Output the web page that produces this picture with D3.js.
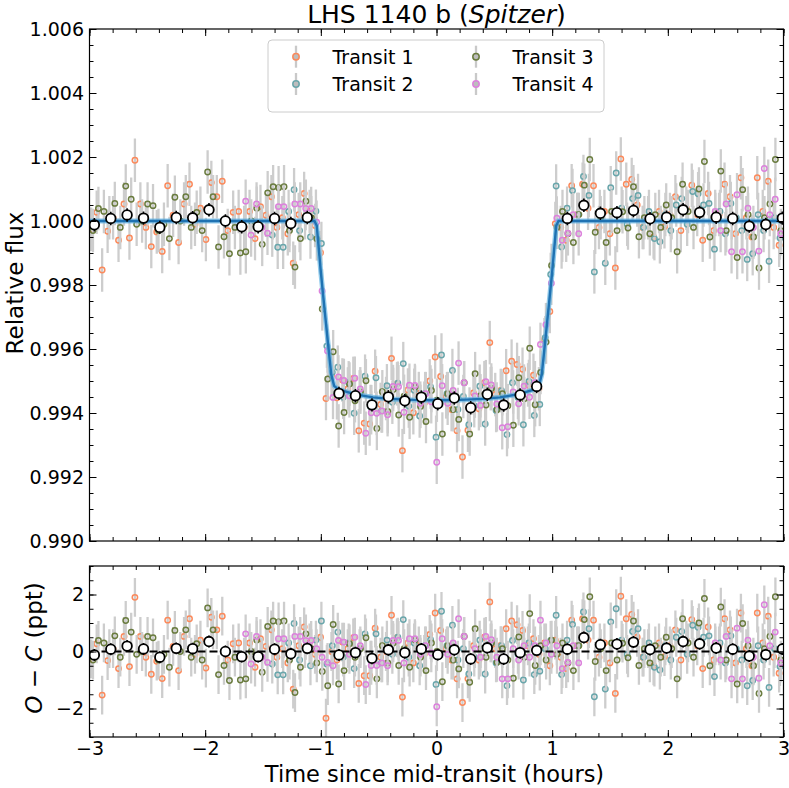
<!DOCTYPE html>
<html lang="en">
<head>
<meta charset="UTF-8">
<title>LHS 1140 b (Spitzer)</title>
<script src="https://cdn.jsdelivr.net/npm/d3@7"></script>
<style>
  body { margin: 0; background: #fff; }
  svg text { font-family: "DejaVu Sans", sans-serif; }
</style>
</head>
<body>
<script>
    // ---- data ----
    var transitNames = ['Transit 1', 'Transit 2', 'Transit 3', 'Transit 4']
    var transitColors = ['#fb8a5c', '#6aa6ab', '#6a7c3f', '#dc82dc']
    var transitStart = [-2.985, -1.42, -2.97, -1.65]   // hours, first exposure
    var cadence = 0.0472                                // hours between exposures
    var pointErr = 0.68                                 // ppt, per-point error bar

    // O - C residuals (ppt), one value per exposure, null = no data
    var resid1 = [-0.26, 0.27, -1.53, -0.32, 0.1, -0.6, 0.53, -0.53, 1.9, 0.53,
        -0.2, -0.8, -0.34, -0.95, 1.1, 0.18, -0.67, 0.53, 1.15, -0.1,
        0.4, -0.58, 1.2, 0.76, 1.24, -0.3, 0.27, 0.3, -0.2, 0.3,
        -0.55, 0.45, 0.18, 0.76, -0.2, 0.1, -0.4, -1.32, 0.2, 0.86,
        0.3, -0.1, 0.5, -2.34, 0.0, -0.3, 0.33, 0.1, 0.48, -1.12,
        -0.85, -0.85, 0.82, -0.2, 0.0, 1.27, 0.48, -1.6, 0.3, -0.4,
        0.2, -0.1, 0.6, 1.35, 0.74, 0.1, -0.3, -0.96, -1.79, -0.96,
        0.2, -0.3, 0.5, 1.74, 0.1, 0.21, 0.8, 1.07, 0.94, 0.74,
        0.2, 0.45, -0.1, 0.3, -0.5, 0.4, -0.2, -0.6, 1.1, 0.2,
        1.15, 0.4, 1.1, -0.2, 0.3, -0.4, -1.47, 1.94, 1.15, 1.3,
        0.5, -0.2, 0.1, -0.5, 0.3, -0.18, 0.2, 0.76, -0.3, 0.4,
        1.12, 0.2, -0.6, 0.86, -0.3, 0.2, 1.15, 0.76, -0.4, 1.35,
        0.1, -0.5, 1.35, 0.3, 1.24, -0.2, -0.76]
    var resid2 = [-0.44, -0.82, -0.82, 0.3, 0.98, -0.3, 0.1, -0.5, 0.4, 1.07,
        -0.44, 0.2, 0.68, -0.2, 0.3, -0.6, 0.1, 0.62, -0.3, 0.62,
        -0.4, 0.4, -0.1, 0.5, 1.12, -0.2, 0.3, -0.5, 0.2, 0.41,
        -1.16, 1.41, 0.2, 0.92, -0.3, 0.1, -0.79, -0.2, 0.4, -0.79,
        0.3, -0.4, 0.2, -1.2, 0.39, -0.1, -1.0, 0.3, -0.81, -0.69,
        0.1, 0.39, 1.27, -0.81, 0.4, 0.95, 0.2, 1.39, 0.8, -1.59,
        0.3, -1.32, 1.04, 1.5, 0.4, -0.1, 0.7, 0.8, -0.2, 0.3,
        -0.55, -0.65, 0.2, -0.3, 0.5, 0.7, -0.1, 0.92, 0.85, 0.5,
        0.55, -0.88, 0.3, -0.4, 0.55, 0.1, -0.3, -1.2, -1.02, 0.2,
        -0.3, -1.26, 0.1, -0.53]
    var resid3 = [-0.3, 0.39, 0.3, 0.1, 0.55, -0.2, 1.09, 0.68, -0.1, 0.0,
        0.53, 0.48, -0.3, -0.1, -0.55, 0.74, 0.0, 0.76, -0.2, 0.27,
        -0.3, 1.53, 0.76, -0.81, -0.49, -1.02, -0.2, -1.0, -0.96, 0.0,
        0.4, -0.73, 0.88, 1.07, 1.04, 1.07, -0.3, -1.44, -0.55, 0.62,
        0.1, -0.4, -0.7, -1.2, 0.95, -1.14, -0.67, 0.27, -0.2, 0.1,
        0.48, -0.3, -0.96, 0.2, -0.4, 0.3, -0.49, 0.1, -0.55, 0.4,
        -0.2, -0.67, 0.3, 0.0, -1.06, 0.2, -0.3, -0.61, 0.53, -1.08,
        0.8, 0.1, -0.2, 0.3, -0.38, 0.1, -0.3, -0.94, 0.51, -0.2,
        1.33, -0.49, 0.2, -0.3, 0.4, -0.1, 0.3, -0.4, -0.67, 0.2,
        1.12, 1.92, -0.35, 0.1, -0.67, 0.3, -0.3, 0.29, -0.22, 1.07,
        -0.49, 0.1, -0.4, 0.2, -0.2, 0.5, 0.1, -0.96, 1.15, 0.3,
        -0.2, 1.0, 1.86, -0.5, 0.2, 1.56, -0.3, 0.1, -1.14, 0.98,
        0.2, -0.5, -1.47, 0.1, 0.53, 1.92, -0.3]
    var resid4 = [0.62, -0.44, 0.53, -0.2, -0.38, 0.1, 0.45, 0.45, -0.1, 0.53,
        0.53, 0.39, 0.39, 0.1, -0.2, -0.38, -0.5, 0.39, 0.33, -0.1,
        0.5, 0.2, -1.16, -0.49, -0.49, -0.4, -0.5, 0.39, 0.39, -0.4,
        0.45, 0.45, -0.1, 0.2, -0.05, -1.94, 0.45, -0.1, 0.3, 1.15,
        0.53, -0.3, 0.1, -0.2, 0.53, 0.41, -0.2, -0.96, -0.96, 0.1,
        -0.3, 0.2, -0.2, 0.2, 1.1, 0.3, -0.1, 0.2, -0.6, -0.38,
        0.2, -0.4,
        null, null, null, null, null, null, null, null, null, null, null, null,
        null, null, null, null, null, null, null, null, null, null, null, null,
        0.3, -0.3, 0.53, -0.96, 0.82, -0.96, 0.4, -0.2, -0.94, 1.64,
        0.2, 0.68, -0.4]
    var residuals = [resid1, resid2, resid3, resid4]

    // binned points (white circles)
    var binTime = [-2.958, -2.816, -2.675, -2.533, -2.392, -2.25, -2.108, -1.967, -1.825, -1.684,
        -1.542, -1.4, -1.259, -1.117,
        -0.843, -0.701, -0.558, -0.416, -0.274, -0.131, 0.011, 0.154, 0.296, 0.439,
        0.581, 0.723, 0.866,
        1.131, 1.274, 1.417, 1.56, 1.703, 1.846, 1.989, 2.132, 2.275, 2.418,
        2.561, 2.704, 2.847, 2.99]
    var binResid = [-0.12, 0.08, 0.19, 0.09, -0.2, 0.11, 0.1, 0.35, 0.0, -0.18,
        -0.18, 0.08, -0.08, 0.11,
        -0.12, -0.04, -0.24, 0.06, -0.04, 0.09, -0.11, 0.06, -0.26, 0.13,
        -0.26, -0.04, 0.04,
        0.08, 0.49, 0.24, 0.26, 0.33, 0.07, 0.12, 0.35, 0.27, 0.12,
        0.08, -0.16, -0.11, 0.09]
    var binErr = 0.21   // ppt

    // transit model, sampled at nodes
    var modelTime = [-3, -1.055, -1.035, -1.0, -0.95, -0.91, -0.885, -0.85, -0.7, -0.55, -0.4, -0.2,
        0, 0.2, 0.4, 0.55, 0.7, 0.85, 0.885, 0.91, 0.95, 1.0, 1.035, 1.055, 3]
    var modelFlux = [1, 1, 0.99985, 0.9984, 0.9966, 0.9952, 0.99485, 0.99474, 0.99458, 0.99449, 0.99444, 0.99441,
        0.9944, 0.99441, 0.99444, 0.99449, 0.99458, 0.99474, 0.99485, 0.9952, 0.9966, 0.9984, 0.99985, 1, 1]

    // axes
    var timeTicks = [-3, -2, -1, 0, 1, 2, 3]
    var fluxTicks = [0.990, 0.992, 0.994, 0.996, 0.998, 1.000, 1.002, 1.004, 1.006]
    var residTicks = [-2, 0, 2]

    // ---- layout ----
    var width = 789
    var height = 788
    var left = 89.5, right = 783.5
    var fluxTop = 29, fluxBottom = 541
    var resTop = 566, resBottom = 737
    var font = '"DejaVu Sans", sans-serif'

    var svg = d3.select('body')
        .append('svg')
        .attr('width', width)
        .attr('height', height)

    var x = d3.scaleLinear().domain([-3, 3]).range([left, right])
    var yFlux = d3.scaleLinear().domain([0.990, 1.006]).range([fluxBottom, fluxTop])
    var yRes = d3.scaleLinear().domain([-3, 3]).range([resBottom, resTop])
    var model = d3.scaleLinear().domain(modelTime).range(modelFlux).clamp(true)

    var defs = svg.append('defs')
    defs.append('clipPath').attr('id', 'clipTop').append('rect')
        .attr('x', left).attr('y', fluxTop).attr('width', right - left).attr('height', fluxBottom - fluxTop)
    defs.append('clipPath').attr('id', 'clipBot').append('rect')
        .attr('x', left).attr('y', resTop).attr('width', right - left).attr('height', resBottom - resTop)

    function transitPoints(k) {
        var out = []
        residuals[k].forEach(function (r, i) {
            if (r === null) return
            out.push({t: transitStart[k] + i * cadence, r: r})
        })
        return out
    }

    var bins = binTime.map(function (t, i) { return {t: t, r: binResid[i]} })

    // value in panel units
    var topVal = function (d) { return model(d.t) + d.r / 1000 }
    var botVal = function (d) { return d.r }

    function drawPanel(clipId, y, val, scale) {
        var g = svg.append('g').attr('clip-path', 'url(#' + clipId + ')')

        transitNames.forEach(function (name, k) {
            var pts = transitPoints(k)
            var tg = g.append('g')
            tg.selectAll('line')
                .data(pts)
                .enter()
                .append('line')
                .attr('x1', function (d) { return x(d.t) })
                .attr('x2', function (d) { return x(d.t) })
                .attr('y1', function (d) { return y(val(d) - pointErr * scale) })
                .attr('y2', function (d) { return y(val(d) + pointErr * scale) })
                .attr('stroke', '#cdcdcd')
                .attr('stroke-width', 2.3)
            tg.selectAll('circle')
                .data(pts)
                .enter()
                .append('circle')
                .attr('cx', function (d) { return x(d.t) })
                .attr('cy', function (d) { return y(val(d)) })
                .attr('r', 2.7)
                .attr('fill', 'none')
                .attr('stroke', transitColors[k])
                .attr('stroke-width', 1.5)
        })
        return g
    }

    function drawBins(g, y, val, scale) {
        g.append('g').selectAll('line')
            .data(bins)
            .enter()
            .append('line')
            .attr('x1', function (d) { return x(d.t) })
            .attr('x2', function (d) { return x(d.t) })
            .attr('y1', function (d) { return y(val(d) - binErr * scale) })
            .attr('y2', function (d) { return y(val(d) + binErr * scale) })
            .attr('stroke', '#000')
            .attr('stroke-width', 1.6)
        g.append('g').selectAll('circle')
            .data(bins)
            .enter()
            .append('circle')
            .attr('cx', function (d) { return x(d.t) })
            .attr('cy', function (d) { return y(val(d)) })
            .attr('r', 4.8)
            .attr('fill', '#fff')
            .attr('stroke', '#000')
            .attr('stroke-width', 1.8)
    }

    // top panel
    var gTop = drawPanel('clipTop', yFlux, topVal, 0.001)
    var modelLine = d3.line()
        .x(function (d, i) { return x(modelTime[i]) })
        .y(function (d) { return yFlux(d) })
    gTop.append('path')
        .attr('d', modelLine(modelFlux))
        .attr('fill', 'none')
        .attr('stroke', '#63b3e3')
        .attr('stroke-opacity', 0.7)
        .attr('stroke-width', 5)
    gTop.append('path')
        .attr('d', modelLine(modelFlux))
        .attr('fill', 'none')
        .attr('stroke', '#1f72b2')
        .attr('stroke-width', 2.4)
    drawBins(gTop, yFlux, topVal, 0.001)

    // bottom panel
    var gBot = drawPanel('clipBot', yRes, botVal, 1)
    gBot.append('line')
        .attr('x1', left).attr('x2', right)
        .attr('y1', yRes(0)).attr('y2', yRes(0))
        .attr('stroke', '#000')
        .attr('stroke-width', 2)
        .attr('stroke-dasharray', '8,4')
    drawBins(gBot, yRes, botVal, 1)

    // ---- axes: inward ticks on all four sides ----
    function styleAxis(g) {
        g.select('.domain').remove()
        g.selectAll('.tick line').attr('stroke', '#000').attr('stroke-width', 1)
        g.selectAll('.tick text').attr('font-size', 19).attr('font-family', font).attr('fill', '#000')
    }

    function drawAxes(y, y0, y1, majorY, minorY, yFormat, showX) {
        var minorX = d3.range(0, 31).map(function (i) { return -3 + i * 0.2 })
        var sides = [
            [d3.axisBottom(x).tickValues(timeTicks).tickFormat(showX ? d3.format('d') : ''), 'translate(0,' + y1 + ')', 7],
            [d3.axisBottom(x).tickValues(minorX).tickFormat(''), 'translate(0,' + y1 + ')', 4],
            [d3.axisTop(x).tickValues(timeTicks).tickFormat(''), 'translate(0,' + y0 + ')', 7],
            [d3.axisTop(x).tickValues(minorX).tickFormat(''), 'translate(0,' + y0 + ')', 4],
            [d3.axisLeft(y).tickValues(majorY).tickFormat(yFormat), 'translate(' + left + ',0)', 7],
            [d3.axisLeft(y).tickValues(minorY).tickFormat(''), 'translate(' + left + ',0)', 4],
            [d3.axisRight(y).tickValues(majorY).tickFormat(''), 'translate(' + right + ',0)', 7],
            [d3.axisRight(y).tickValues(minorY).tickFormat(''), 'translate(' + right + ',0)', 4]
        ]
        sides.forEach(function (s, i) {
            var ax = s[0].tickSizeInner(-s[2]).tickSizeOuter(0).tickPadding(i === 0 ? 4 : 5.5)
            svg.append('g').attr('transform', s[1]).call(ax).call(styleAxis)
        })
        svg.append('rect')
            .attr('x', left).attr('y', y0)
            .attr('width', right - left).attr('height', y1 - y0)
            .attr('fill', 'none')
            .attr('stroke', '#000')
            .attr('stroke-width', 1.2)
    }

    var fluxMinor = d3.range(0, 33).map(function (i) { return 0.990 + i * 0.0005 })
    var resMinor = d3.range(0, 13).map(function (i) { return -3 + i * 0.5 })
    drawAxes(yFlux, fluxTop, fluxBottom, fluxTicks, fluxMinor, d3.format('.3f'), false)
    drawAxes(yRes, resTop, resBottom, residTicks, resMinor, d3.format('d'), true)

    // ---- labels ----
    var title = svg.append('text')
        .attr('x', (left + right) / 2)
        .attr('y', 22.5)
        .attr('text-anchor', 'middle')
        .attr('font-size', 25)
        .attr('font-family', font)
    title.append('tspan').text('LHS 1140 b (')
    title.append('tspan').attr('font-style', 'italic').text('Spitzer')
    title.append('tspan').text(')')

    svg.append('text')
        .attr('transform', 'translate(23,' + 283 + ') rotate(-90)')
        .attr('text-anchor', 'middle')
        .attr('font-size', 23)
        .attr('font-family', font)
        .text('Relative flux')

    var oc = svg.append('text')
        .attr('transform', 'translate(42,' + 648 + ') rotate(-90)')
        .attr('text-anchor', 'middle')
        .attr('font-size', 23)
        .attr('font-family', font)
    oc.append('tspan').attr('font-style', 'italic').text('O')
    oc.append('tspan').text(' \u2212 ')
    oc.append('tspan').attr('font-style', 'italic').text('C')
    oc.append('tspan').text(' (ppt)')

    svg.append('text')
        .attr('x', (left + right) / 2 - 2)
        .attr('y', 782)
        .attr('text-anchor', 'middle')
        .attr('font-size', 22.5)
        .attr('font-family', font)
        .text('Time since mid-transit (hours)')

    // ---- legend ----
    var legend = svg.append('g')
    legend.append('rect')
        .attr('x', 268).attr('y', 40)
        .attr('width', 336).attr('height', 72)
        .attr('rx', 4)
        .attr('fill', '#fff')
        .attr('fill-opacity', 0.8)
        .attr('stroke', '#cccccc')
        .attr('stroke-width', 1)
    var legPos = [[296, 56.7], [296, 84], [476, 56.7], [476, 84]]
    transitNames.forEach(function (name, k) {
        var p = legPos[k]
        legend.append('line')
            .attr('x1', p[0]).attr('x2', p[0])
            .attr('y1', p[1] - 11).attr('y2', p[1] + 11)
            .attr('stroke', '#c9c9c9')
            .attr('stroke-width', 2.3)
        legend.append('circle')
            .attr('cx', p[0]).attr('cy', p[1])
            .attr('r', 3.2)
            .attr('fill', '#bdbdbd')
            .attr('stroke', transitColors[k])
            .attr('stroke-width', 1.5)
        legend.append('text')
            .attr('x', p[0] + 36.5)
            .attr('y', p[1] + 7)
            .attr('font-size', 19)
            .attr('font-family', font)
            .text(name)
    })
</script>
</body>
</html>
